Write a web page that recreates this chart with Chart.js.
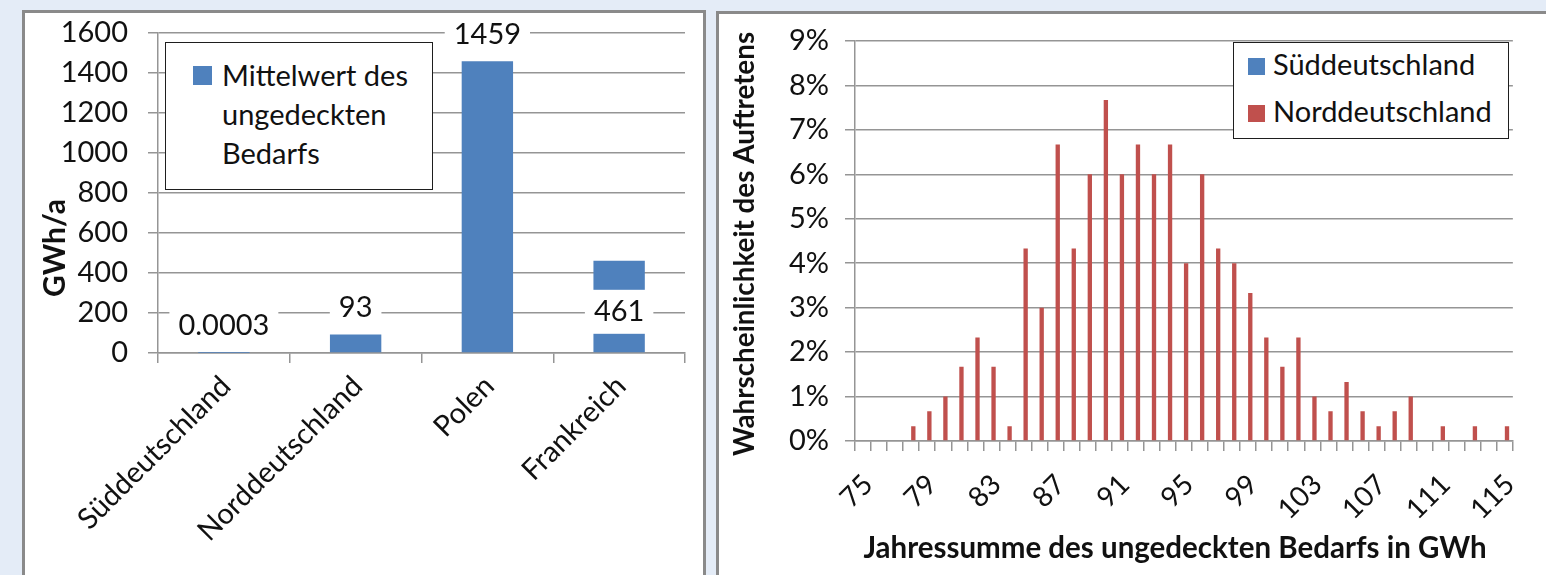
<!DOCTYPE html>
<html>
<head>
<meta charset="utf-8">
<script src="https://cdn.jsdelivr.net/npm/chart.js@4.4.1/dist/chart.umd.min.js"></script>
<style>
  html, body { margin: 0; padding: 0; width: 1546px; height: 575px; overflow: hidden; background: #e4ecf7; font-family: Lato, sans-serif; }
  .panel { position: absolute; background: #fff; border: 3px solid #8a8a8a; box-sizing: border-box; }
  #p1 { left: 22px; top: 10px; width: 684px; height: 620px; }
  #p2 { left: 716px; top: 11px; width: 880px; height: 620px; }
  canvas { position: absolute; left: 0; top: 0; }
  .legend { position: absolute; background: #fff; border: 1.5px solid #1e1e1e; box-sizing: border-box; color: #111; font-size: 29px; }
  .legend .item { position: absolute; white-space: nowrap; }
  .legend .sw { position: absolute; }
  #leg1 { left: 165px; top: 42px; width: 268px; height: 148px; }
  #leg2 { left: 1233px; top: 42px; width: 276px; height: 97px; }
</style>
</head>
<body>
<div class="panel" id="p1"><canvas id="c1" width="678" height="562"></canvas></div>
<div class="panel" id="p2"><canvas id="c2" width="827" height="561"></canvas></div>
<div class="legend" id="leg1"></div>
<div class="legend" id="leg2"></div>
<script>
// ---- mean unmet demand per region (GWh/a) ----
const regions = ['Süddeutschland', 'Norddeutschland', 'Polen', 'Frankreich'];
const meanUnmet = [0.0003, 93, 1459, 461];
const meanLabel = ['Mittelwert des', 'ungedeckten', 'Bedarfs'];
const gwhTicks = [0, 200, 400, 600, 800, 1000, 1200, 1400, 1600];

// ---- distribution of the annual unmet demand (GWh) ----
const annualSums = ['75','76','77','78','79','80','81','82','83','84','85','86','87','88','89','90','91','92','93','94',
  '95','96','97','98','99','100','101','102','103','104','105','106','107','108','109','110','111','112','113','114','115'];
const probSued = [0,0,0,0,0,0,0,0,0,0,0,0,0,0,0,0,0,0,0,0,0,0,0,0,0,0,0,0,0,0,0,0,0,0,0,0,0,0,0,0,0];
const probNord = [0,0,0,0.33,0.67,1.0,1.67,2.33,1.67,0.33,4.33,3.0,6.67,4.33,6.0,7.67,6.0,6.67,6.0,6.67,
  4.0,6.0,4.33,4.0,3.33,2.33,1.67,2.33,1.0,0.67,1.33,0.67,0.33,0.67,1.0,0,0.33,0,0.33,0,0.33];
const percentTicks = [0,1,2,3,4,5,6,7,8,9];

const BLUE = '#4f81bd';
const RED = '#c0504d';
const GRID = '#959595';
const TXT = '#111111';
const FONT = 'Lato, sans-serif';
const FS = 29;

Chart.defaults.font.family = FONT;
Chart.defaults.color = TXT;
Chart.defaults.animation = false;

// rotated axis title drawn on the canvas
function sideTitle(id, text, x, y, size) {
  return {
    id: id,
    afterDraw(chart) {
      const ctx = chart.ctx;
      ctx.save();
      ctx.translate(x, y);
      ctx.rotate(-Math.PI / 2);
      ctx.font = 'bold ' + size + 'px ' + FONT;
      ctx.fillStyle = TXT;
      ctx.textAlign = 'center';
      ctx.textBaseline = 'middle';
      ctx.fillText(text, 0, 0);
      ctx.restore();
    }
  };
}

// keep the plot area edges where the layout padding puts them
function noLabelPadding(s) {
  s.paddingTop = 0;
  s.paddingBottom = 0;
}

// value labels on white boxes above (or inside) each bar
const valueLabels = {
  id: 'valueLabels',
  afterDatasetsDraw(chart, args, opts) {
    const ctx = chart.ctx;
    const meta = chart.getDatasetMeta(0);
    const data = chart.data.datasets[0].data;
    ctx.save();
    ctx.font = FS + 'px ' + FONT;
    ctx.textAlign = 'center';
    ctx.textBaseline = 'middle';
    meta.data.forEach((bar, i) => {
      const txt = String(data[i]);
      const cy = bar.y - opts.shift[i];
      const w = ctx.measureText(txt).width + 18;
      const h = 44;
      ctx.fillStyle = '#ffffff';
      ctx.fillRect(bar.x - w / 2, cy - h / 2, w, h);
      ctx.fillStyle = TXT;
      ctx.fillText(txt, bar.x, cy);
    });
    ctx.restore();
  }
};

// left chart
new Chart(document.getElementById('c1'), {
  type: 'bar',
  data: {
    labels: regions,
    datasets: [{
      label: meanLabel.join(' '),
      data: meanUnmet,
      backgroundColor: BLUE,
      borderWidth: 0,
      categoryPercentage: 1.0,
      barPercentage: 0.39
    }]
  },
  options: {
    responsive: false,
    devicePixelRatio: 1,
    layout: { padding: { left: 0, right: 18, top: 20, bottom: 0 } },
    plugins: {
      legend: { display: false },
      tooltip: { enabled: false },
      valueLabels: { shift: [27, 27, 27, -51] }
    },
    scales: {
      x: {
        offset: true,
        grid: { display: true, drawOnChartArea: false, drawTicks: true, tickLength: 10, offset: true, color: GRID, lineWidth: 1.5 },
        border: { display: true, color: GRID, width: 1.5 },
        ticks: { minRotation: 45, maxRotation: 45, padding: 6, labelOffset: 2, font: { size: FS }, color: TXT },
        afterFit(s) { s.height = 222; }
      },
      y: {
        min: 0, max: 1600,
        afterBuildTicks(s) { s.ticks = gwhTicks.map(v => ({ value: v })); },
        ticks: { padding: 20, font: { size: FS }, color: TXT, callback(v) { return String(v); } },
        grid: { color: GRID, lineWidth: 1.5, tickLength: 10 },
        border: { display: true, color: GRID, width: 1.5 },
        afterFit(s) { s.width = 133; noLabelPadding(s); }
      }
    }
  },
  plugins: [valueLabels, sideTitle('gwhTitle', 'GWh/a', 30, 235, 30)]
});

// right chart
const xTitle = {
  id: 'xTitle',
  afterDraw(chart) {
    const ctx = chart.ctx;
    ctx.save();
    ctx.font = 'bold 29.5px ' + FONT;
    ctx.fillStyle = TXT;
    ctx.textAlign = 'center';
    ctx.textBaseline = 'middle';
    ctx.fillText('Jahressumme des ungedeckten Bedarfs in GWh', 456, 534);
    ctx.restore();
  }
};

const chart2 = new Chart(document.getElementById('c2'), {
  type: 'bar',
  data: {
    labels: annualSums,
    datasets: [
      { label: 'Süddeutschland', data: probSued, backgroundColor: BLUE, borderWidth: 0, categoryPercentage: 0.54, barPercentage: 1.0 },
      { label: 'Norddeutschland', data: probNord, backgroundColor: RED, borderWidth: 0, categoryPercentage: 0.54, barPercentage: 1.0 }
    ]
  },
  options: {
    responsive: false,
    devicePixelRatio: 1,
    layout: { padding: { left: 0, right: 33, top: 27, bottom: 0 } },
    plugins: { legend: { display: false }, tooltip: { enabled: false } },
    scales: {
      x: {
        offset: true,
        grid: { display: true, drawOnChartArea: false, drawTicks: true, tickLength: 10, offset: true, color: GRID, lineWidth: 1.5 },
        border: { display: true, color: GRID, width: 1.5 },
        ticks: {
          autoSkip: false, minRotation: 45, maxRotation: 45, padding: 17, labelOffset: 5, font: { size: 28 }, color: TXT,
          callback(v, i) { return i % 4 === 0 ? this.getLabelForValue(v) : ''; }
        },
        afterFit(s) { s.height = 134; }
      },
      y: {
        min: 0, max: 9,
        afterBuildTicks(s) { s.ticks = percentTicks.map(v => ({ value: v })); },
        ticks: { padding: 16, font: { size: FS }, color: TXT, callback(v) { return v + '%'; } },
        grid: { color: GRID, lineWidth: 1.5, tickLength: 10 },
        border: { display: true, color: GRID, width: 1.5 },
        afterFit(s) { s.width = 136; noLabelPadding(s); }
      }
    }
  },
  plugins: [xTitle, sideTitle('probTitle', 'Wahrscheinlichkeit des Auftretens', 26, 230, 27.8)]
});

// html legends built from the chart data
function swatch(color, x, y, s) {
  const d = document.createElement('div');
  d.className = 'sw';
  d.style.cssText = `left:${x}px;top:${y}px;width:${s}px;height:${s}px;background:${color};`;
  return d;
}
function textItem(text, x, y) {
  const d = document.createElement('div');
  d.className = 'item';
  d.style.cssText = `left:${x}px;top:${y}px;line-height:34px;`;
  d.textContent = text;
  return d;
}
const leg1 = document.getElementById('leg1');
leg1.appendChild(swatch(BLUE, 27, 23, 19));
meanLabel.forEach((t, i) => leg1.appendChild(textItem(t, 56, 15 + i * 39)));

const leg2 = document.getElementById('leg2');
chart2.data.datasets.forEach((ds, i) => {
  leg2.appendChild(swatch(ds.backgroundColor, 14, 15 + i * 47, 17));
  leg2.appendChild(textItem(ds.label, 39, 4 + i * 47));
});
</script>
</body>
</html>
